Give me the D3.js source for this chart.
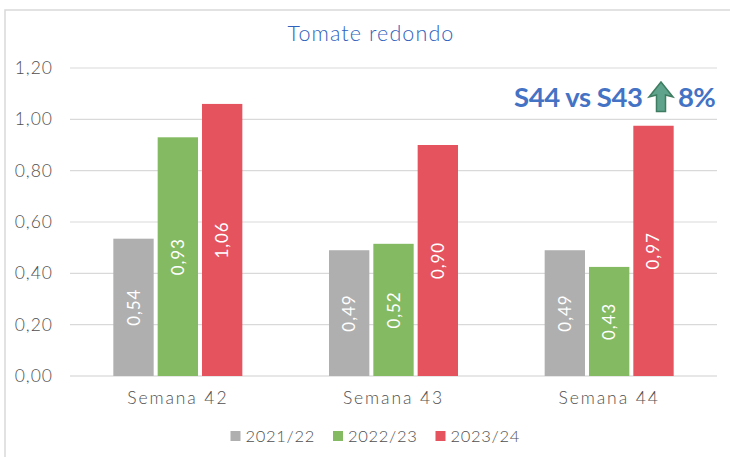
<!DOCTYPE html>
<html><head><meta charset="utf-8">
<script src="https://cdn.jsdelivr.net/npm/d3@7/dist/d3.min.js"></script>
<style>html,body{margin:0;padding:0;background:#fff}svg{display:block}text{font-family:Lato,sans-serif;font-weight:300}</style>
</head><body><svg id="c" width="730" height="457"></svg>
<script>
const categories=["Semana 42","Semana 43","Semana 44"];
const seriesNames=["2021/22","2022/23","2023/24"];
const colors=["#afafaf","#84ba62","#e5535f"];
const v2122=[0.535,0.49,0.49];
const v2223=[0.93,0.515,0.425];
const v2324=[1.06,0.90,0.975];
const l2122=["0,54","0,49","0,49"];
const l2223=["0,93","0,52","0,43"];
const l2324=["1,06","0,90","0,97"];
const yTicks=[0,0.2,0.4,0.6,0.8,1.0,1.2];
const values=[v2122,v2223,v2324],labels=[l2122,l2223,l2324];
const svg=d3.select("#c");
svg.append("rect").attr("x",5).attr("y",10).attr("width",740).attr("height",460).attr("fill","#fff").attr("stroke","#d9d9d9").attr("stroke-width",1.5);
const x=d3.scaleBand().domain(categories).range([70,717]);
const y=d3.scaleLinear().domain([0,1.2]).range([376,68]);
const grey="#4f4f4f";
svg.append("g").selectAll("line").data(yTicks).join("line")
 .attr("x1",70).attr("x2",717).attr("y1",d=>y(d)).attr("y2",d=>y(d))
 .attr("stroke",d=>d===0?"#cfcfcf":"#d9d9d9").attr("stroke-width",1.2);
svg.append("g").selectAll("text").data(yTicks).join("text")
 .attr("x",53).attr("y",d=>y(d)+6).attr("text-anchor","end").attr("fill",grey)
 .style("font-size","17.5px").style("letter-spacing","1px").text(d=>d3.format(".2f")(d).replace(".",","));
const inner=d3.scaleBand().domain(d3.range(3)).range([-64.5,64.5]).paddingInner(0.09);
const gs=svg.append("g").selectAll("g").data(categories).join("g")
 .attr("transform",c=>`translate(${x(c)+x.bandwidth()/2},0)`);
gs.each(function(c,ci){
 const g=d3.select(this);
 values.forEach((s,si)=>{
  const bx=inner(si),w=inner.bandwidth(),top=y(s[ci]);
  g.append("rect").attr("x",bx).attr("y",top).attr("width",w).attr("height",y(0)-top).attr("fill",colors[si]);
  const cx=bx+w/2,cy=(top+y(0))/2;
  g.append("text").attr("transform",`translate(${cx+6},${cy}) rotate(-90)`).attr("text-anchor","middle")
   .attr("fill","#fff").style("font-weight","400").style("font-size","17px").style("letter-spacing","0.9px").text(labels[si][ci]);
 });
 g.append("text").attr("x",0).attr("y",404).attr("text-anchor","middle").attr("fill",grey)
  .style("font-size","17.5px").style("letter-spacing","1.9px").text(c);
});
svg.append("text").attr("x",371).attr("y",41).attr("text-anchor","middle").attr("fill","#2f62bd")
 .style("font-size","21.5px").style("letter-spacing","1.1px").text("Tomate redondo");
// annotation
svg.append("text").attr("x",514).attr("y",107).attr("fill","#4472c4").style("font-weight","700").style("font-size","27.5px").style("letter-spacing","-0.45px").text("S44 vs S43");
svg.append("path").attr("d","M661 82 L673 97 L665.5 95 L665.5 111.5 L656.5 111.5 L656.5 95 L649 97 Z").attr("fill","#5fa38c").attr("stroke","#3f7d62").attr("stroke-width",1.5);
svg.append("text").attr("x",678).attr("y",107).attr("fill","#4472c4").style("font-weight","700").style("font-size","27.5px").style("letter-spacing","-0.8px").text("8%");
// legend
const lx=[230.5,333,435.5];
const lg=svg.append("g").selectAll("g").data(seriesNames).join("g").attr("transform",(d,i)=>`translate(${lx[i]},0)`);
lg.append("rect").attr("y",431).attr("width",10).attr("height",10).attr("fill",(d,i)=>colors[i]);
lg.append("text").attr("x",15).attr("y",442).attr("fill",grey).style("font-size","16.5px").style("letter-spacing","0.7px").text(d=>d);
</script></body></html>
